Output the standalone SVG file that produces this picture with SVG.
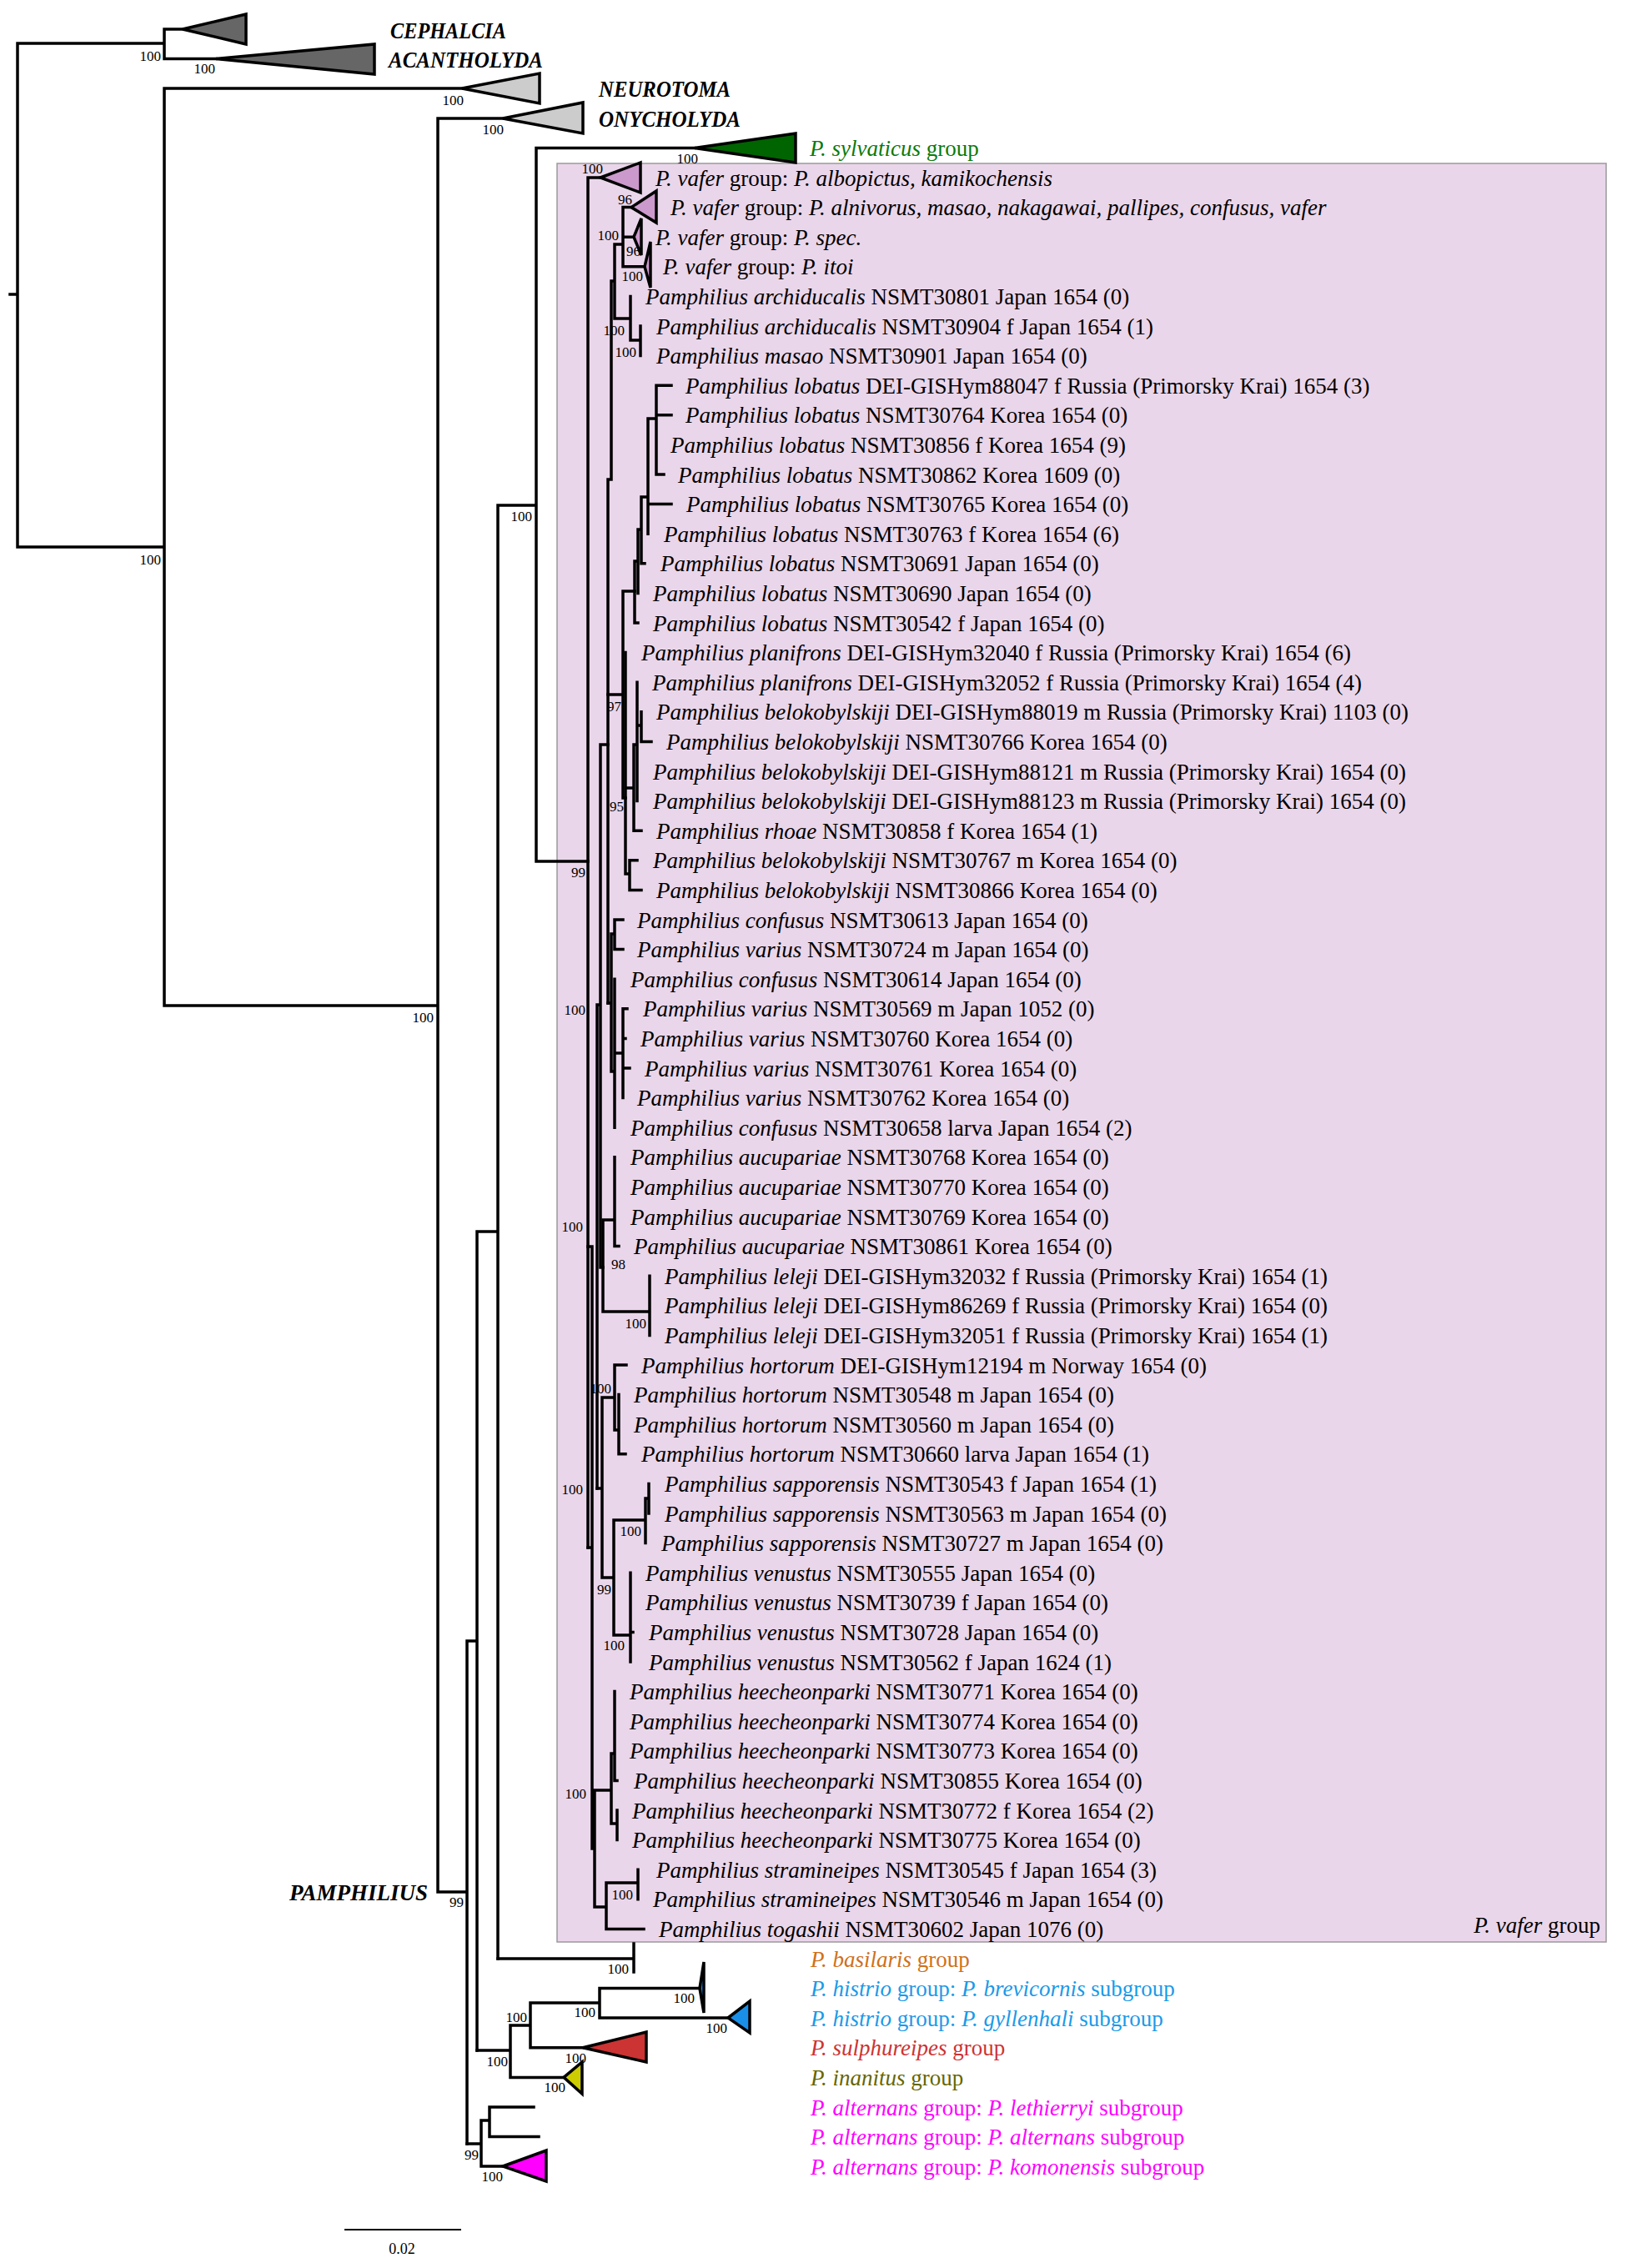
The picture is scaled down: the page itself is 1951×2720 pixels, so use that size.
<svg xmlns="http://www.w3.org/2000/svg" width="1951" height="2720" viewBox="0 0 1951 2720">
<defs>
<style>
text{font-family:"Liberation Serif","Times New Roman",serif;fill:#000}
.t{font-size:27px}
.i{font-style:italic}
.s{font-size:17px;text-anchor:end}
.b{font-size:27px;font-weight:bold;font-style:italic}
.ln{stroke:#000;stroke-width:3.5;fill:none;stroke-linecap:square}
.tri{stroke:#000;stroke-width:3.5;stroke-linejoin:miter}
.box{fill:#ead6ea;stroke:#9a9a9a;stroke-width:1.5}
</style>
</defs>
<rect width="1951" height="2720" fill="#fff"/>
<rect id="vafer-box" class="box" x="668" y="196" width="1258" height="2133"/>

<g id="connectors">
<path class="ln" d="M12,353H21 M21,52V656 M21,52H197 M197,35V70.6 M197,35H219 M197,70.6H259 M21,656H197 M197,106V1206 M197,106H554 M197,1206H525 M525,142V2269 M525,142H603 M525,2269H560 M560,1968V2571 M560,1968H572 M572,1477V2459 M572,1477H597 M597,606V2349 M597,606H643 M643,177.4V1033 M643,177.4H833 M643,1033H705"/>
<path class="ln" d="M597,2349H760 M760,2331V2365 M572,2459H612 M612,2429V2491.4 M612,2429H636 M636,2402V2455.8 M636,2402H719 M719,2384.6V2420 M719,2384.6H839 M719,2420H873 M636,2455.8H699 M612,2491.4H676 M560,2571H577 M577,2543V2598 M577,2543H587 M587,2527V2562.6 M587,2527H640 M587,2562.6H646 M577,2598H603"/>
<path class="ln" d="M705,213V1856 M705,213H720 M747,248.6V319.8 M747,248.6H757 M747,284.2H760 M747,319.8H773 M737,293H747 M737,293V382 M737,382H756 M756,355.4V408 M756,408H768 M768,391V426.6 M733,337H737 M733,337V575 M729,575H733 M729,575V1203"/>
<path class="ln" d="M720,893H729 M720,893V1520 M716,1205H720 M716,1205V1785 M720,1520H723 M747,709V957 M747,709H761 M747,957H750 M729,833H747"/>
<path class="ln" d="M761,673V747 M761,673H765 M761,747H765 M765,635V711.4 M765,635H769 M769,596V675.8 M769,596H777 M769,675.8H773 M777,502V640.2 M777,502H787 M777,604.6H805 M787,462.2V569 M787,462.2H805 M787,497.8H805 M787,569H796"/>
<path class="ln" d="M750,782.6V1048 M750,1048H755 M755,1031.8V1067.4 M755,1031.8H764 M755,1067.4H769 M750,945H760 M760,893V996.2 M760,893H764 M760,996.2H769 M764,818.2V960.6 M764,870H769 M769,853.8V889.4 M769,889.4H781"/>
<path class="ln" d="M729,1203H733 M733,1120V1285 M733,1120H737 M737,1103V1138.6 M737,1103H747 M737,1138.6H747 M733,1285H737 M737,1174.2V1352.2 M737,1263H747 M747,1209.8V1316.6 M747,1209.8H752 M747,1245.4H750 M747,1281H755"/>
<path class="ln" d="M723,1463V1573 M723,1463H737 M737,1387.8V1494.6 M737,1494.6H742 M723,1573H779 M779,1530.2V1601.4"/>
<path class="ln" d="M716,1785H722 M722,1676V1892 M722,1676H737 M737,1637V1715 M737,1637H751 M737,1715H742 M742,1672.6V1743.8 M742,1743.8H750 M722,1892H736 M736,1823V1961 M736,1823H774 M774,1797V1850.6 M774,1797H778 M778,1779.4V1815 M736,1961H756 M756,1886.2V1993 M756,1957.4H759"/>
<path class="ln" d="M705,1856H710 M705,1495H710 M710,1495V2217 M713,2147V2287 M713,2147H733 M733,2103V2187 M733,2103H737 M737,2028.6V2135.4 M737,2135.4H740 M733,2187H740 M740,2171V2206.6 M713,2287H727 M727,2258V2313.4 M727,2258H765 M765,2242.2V2277.8 M727,2313.4H772"/>
</g>

<g id="support">
<text class="s" x="193" y="73">100</text>
<text class="s" x="258" y="88">100</text>
<text class="s" x="193" y="677">100</text>
<text class="s" x="520" y="1226">100</text>
<text class="s" x="556" y="126">100</text>
<text class="s" x="604" y="161">100</text>
<text class="s" x="638" y="625">100</text>
<text class="s" x="837" y="196">100</text>
<text class="s" x="702" y="1052">99</text>
<text class="s" x="556" y="2287">99</text>
<text class="s" x="723" y="208">100</text>
<text class="s" x="758" y="245">96</text>
<text class="s" x="742" y="288">100</text>
<text class="s" x="768" y="307">96</text>
<text class="s" x="771" y="337">100</text>
<text class="s" x="749" y="402">100</text>
<text class="s" x="763" y="428">100</text>
<text class="s" x="745" y="853">97</text>
<text class="s" x="748" y="973">95</text>
<text class="s" x="702" y="1217">100</text>
<text class="s" x="699" y="1477">100</text>
<text class="s" x="750" y="1522">98</text>
<text class="s" x="775" y="1593">100</text>
<text class="s" x="733" y="1671">100</text>
<text class="s" x="699" y="1792">100</text>
<text class="s" x="769" y="1842">100</text>
<text class="s" x="733" y="1912">99</text>
<text class="s" x="749" y="1979">100</text>
<text class="s" x="703" y="2157">100</text>
<text class="s" x="759" y="2278">100</text>
<text class="s" x="754" y="2367">100</text>
<text class="s" x="833" y="2402">100</text>
<text class="s" x="714" y="2419">100</text>
<text class="s" x="872" y="2438">100</text>
<text class="s" x="632" y="2425">100</text>
<text class="s" x="703" y="2474">100</text>
<text class="s" x="609" y="2478">100</text>
<text class="s" x="678" y="2509">100</text>
<text class="s" x="574" y="2590">99</text>
<text class="s" x="603" y="2616">100</text>
</g>

<g id="outgroups">
<g id="cephalcia"><polygon class="tri" fill="#666" points="219,35 295,17 295,53"/><text class="b" x="468" y="46" textLength="139" lengthAdjust="spacingAndGlyphs">CEPHALCIA</text></g>
<g id="acantholyda"><polygon class="tri" fill="#666" points="259,70.6 449,53 449,89"/><text class="b" x="466" y="81" textLength="185" lengthAdjust="spacingAndGlyphs">ACANTHOLYDA</text></g>
<g id="neurotoma"><polygon class="tri" fill="#ccc" points="554,106 647,88 647,124"/><text class="b" x="718" y="116" textLength="158" lengthAdjust="spacingAndGlyphs">NEUROTOMA</text></g>
<g id="onycholyda"><polygon class="tri" fill="#ccc" points="603,142 699,123 699,160"/><text class="b" x="718" y="152" textLength="170" lengthAdjust="spacingAndGlyphs">ONYCHOLYDA</text></g>
<g id="pamphilius-label"><text class="b" x="347" y="2279" textLength="166" lengthAdjust="spacingAndGlyphs">PAMPHILIUS</text></g>
<g id="sylvaticus"><polygon class="tri" fill="#006400" points="833,177.4 954,160 954,195"/><text class="t" x="971" y="186.9" fill="#0b7a0b"><tspan class="i" fill="#0b7a0b">P. sylvaticus</tspan><tspan fill="#0b7a0b"> group</tspan></text></g>
</g>

<g id="vafer-clades">
<g id="vafer-albopictus"><polygon class="tri" fill="#cc99cc" points="720,213 768,195 768,231"/><text class="t" x="786" y="222.5"><tspan class="i">P. vafer</tspan> group: <tspan class="i">P. albopictus, kamikochensis</tspan></text></g>
<g id="vafer-alnivorus"><polygon class="tri" fill="#cc99cc" points="757,248.6 787,229 787,267"/><text class="t" x="804" y="258.1"><tspan class="i">P. vafer</tspan> group: <tspan class="i">P. alnivorus, masao, nakagawai, pallipes, confusus, vafer</tspan></text></g>
<g id="vafer-spec"><polygon class="tri" fill="#cc99cc" points="760,284.2 769,262 769,306"/><text class="t" x="786" y="293.7"><tspan class="i">P. vafer</tspan> group: <tspan class="i">P. spec.</tspan></text></g>
<g id="vafer-itoi"><polygon class="tri" fill="#cc99cc" points="773,319.8 780,290 780,345"/><text class="t" x="795" y="329.3"><tspan class="i">P. vafer</tspan> group: <tspan class="i">P. itoi</tspan></text></g>
</g>

<g id="leaves" class="t">
<g id="l5"><text class="t" x="774" y="364.9"><tspan class="i">Pamphilius archiducalis</tspan> NSMT30801 Japan 1654 (0)</text></g>
<g id="l6"><text class="t" x="787" y="400.5"><tspan class="i">Pamphilius archiducalis</tspan> NSMT30904 f Japan 1654 (1)</text></g>
<g id="l7"><text class="t" x="787" y="436.1"><tspan class="i">Pamphilius masao</tspan> NSMT30901 Japan 1654 (0)</text></g>
<g id="l8"><text class="t" x="822" y="471.7"><tspan class="i">Pamphilius lobatus</tspan> DEI-GISHym88047 f Russia (Primorsky Krai) 1654 (3)</text></g>
<g id="l9"><text class="t" x="822" y="507.3"><tspan class="i">Pamphilius lobatus</tspan> NSMT30764 Korea 1654 (0)</text></g>
<g id="l10"><text class="t" x="804" y="542.9"><tspan class="i">Pamphilius lobatus</tspan> NSMT30856 f Korea 1654 (9)</text></g>
<g id="l11"><text class="t" x="813" y="578.5"><tspan class="i">Pamphilius lobatus</tspan> NSMT30862 Korea 1609 (0)</text></g>
<g id="l12"><text class="t" x="823" y="614.1"><tspan class="i">Pamphilius lobatus</tspan> NSMT30765 Korea 1654 (0)</text></g>
<g id="l13"><text class="t" x="796" y="649.7"><tspan class="i">Pamphilius lobatus</tspan> NSMT30763 f Korea 1654 (6)</text></g>
<g id="l14"><text class="t" x="792" y="685.3"><tspan class="i">Pamphilius lobatus</tspan> NSMT30691 Japan 1654 (0)</text></g>
<g id="l15"><text class="t" x="783" y="720.9"><tspan class="i">Pamphilius lobatus</tspan> NSMT30690 Japan 1654 (0)</text></g>
<g id="l16"><text class="t" x="783" y="756.5"><tspan class="i">Pamphilius lobatus</tspan> NSMT30542 f Japan 1654 (0)</text></g>
<g id="l17"><text class="t" x="769" y="792.1"><tspan class="i">Pamphilius planifrons</tspan> DEI-GISHym32040 f Russia (Primorsky Krai) 1654 (6)</text></g>
<g id="l18"><text class="t" x="782" y="827.7"><tspan class="i">Pamphilius planifrons</tspan> DEI-GISHym32052 f Russia (Primorsky Krai) 1654 (4)</text></g>
<g id="l19"><text class="t" x="787" y="863.3"><tspan class="i">Pamphilius belokobylskiji</tspan> DEI-GISHym88019 m Russia (Primorsky Krai) 1103 (0)</text></g>
<g id="l20"><text class="t" x="799" y="898.9"><tspan class="i">Pamphilius belokobylskiji</tspan> NSMT30766 Korea 1654 (0)</text></g>
<g id="l21"><text class="t" x="783" y="934.5"><tspan class="i">Pamphilius belokobylskiji</tspan> DEI-GISHym88121 m Russia (Primorsky Krai) 1654 (0)</text></g>
<g id="l22"><text class="t" x="783" y="970.1"><tspan class="i">Pamphilius belokobylskiji</tspan> DEI-GISHym88123 m Russia (Primorsky Krai) 1654 (0)</text></g>
<g id="l23"><text class="t" x="787" y="1005.7"><tspan class="i">Pamphilius rhoae</tspan> NSMT30858 f Korea 1654 (1)</text></g>
<g id="l24"><text class="t" x="783" y="1041.3"><tspan class="i">Pamphilius belokobylskiji</tspan> NSMT30767 m Korea 1654 (0)</text></g>
<g id="l25"><text class="t" x="787" y="1076.9"><tspan class="i">Pamphilius belokobylskiji</tspan> NSMT30866 Korea 1654 (0)</text></g>
<g id="l26"><text class="t" x="764" y="1112.5"><tspan class="i">Pamphilius confusus</tspan> NSMT30613 Japan 1654 (0)</text></g>
<g id="l27"><text class="t" x="764" y="1148.1"><tspan class="i">Pamphilius varius</tspan> NSMT30724 m Japan 1654 (0)</text></g>
<g id="l28"><text class="t" x="756" y="1183.7"><tspan class="i">Pamphilius confusus</tspan> NSMT30614 Japan 1654 (0)</text></g>
<g id="l29"><text class="t" x="771" y="1219.3"><tspan class="i">Pamphilius varius</tspan> NSMT30569 m Japan 1052 (0)</text></g>
<g id="l30"><text class="t" x="768" y="1254.9"><tspan class="i">Pamphilius varius</tspan> NSMT30760 Korea 1654 (0)</text></g>
<g id="l31"><text class="t" x="773" y="1290.5"><tspan class="i">Pamphilius varius</tspan> NSMT30761 Korea 1654 (0)</text></g>
<g id="l32"><text class="t" x="764" y="1326.1"><tspan class="i">Pamphilius varius</tspan> NSMT30762 Korea 1654 (0)</text></g>
<g id="l33"><text class="t" x="756" y="1361.7"><tspan class="i">Pamphilius confusus</tspan> NSMT30658 larva Japan 1654 (2)</text></g>
<g id="l34"><text class="t" x="756" y="1397.3"><tspan class="i">Pamphilius aucupariae</tspan> NSMT30768 Korea 1654 (0)</text></g>
<g id="l35"><text class="t" x="756" y="1432.9"><tspan class="i">Pamphilius aucupariae</tspan> NSMT30770 Korea 1654 (0)</text></g>
<g id="l36"><text class="t" x="756" y="1468.5"><tspan class="i">Pamphilius aucupariae</tspan> NSMT30769 Korea 1654 (0)</text></g>
<g id="l37"><text class="t" x="760" y="1504.1"><tspan class="i">Pamphilius aucupariae</tspan> NSMT30861 Korea 1654 (0)</text></g>
<g id="l38"><text class="t" x="797" y="1539.7"><tspan class="i">Pamphilius leleji</tspan> DEI-GISHym32032 f Russia (Primorsky Krai) 1654 (1)</text></g>
<g id="l39"><text class="t" x="797" y="1575.3"><tspan class="i">Pamphilius leleji</tspan> DEI-GISHym86269 f Russia (Primorsky Krai) 1654 (0)</text></g>
<g id="l40"><text class="t" x="797" y="1610.9"><tspan class="i">Pamphilius leleji</tspan> DEI-GISHym32051 f Russia (Primorsky Krai) 1654 (1)</text></g>
<g id="l41"><text class="t" x="769" y="1646.5"><tspan class="i">Pamphilius hortorum</tspan> DEI-GISHym12194 m Norway 1654 (0)</text></g>
<g id="l42"><text class="t" x="760" y="1682.1"><tspan class="i">Pamphilius hortorum</tspan> NSMT30548 m Japan 1654 (0)</text></g>
<g id="l43"><text class="t" x="760" y="1717.7"><tspan class="i">Pamphilius hortorum</tspan> NSMT30560 m Japan 1654 (0)</text></g>
<g id="l44"><text class="t" x="769" y="1753.3"><tspan class="i">Pamphilius hortorum</tspan> NSMT30660 larva Japan 1654 (1)</text></g>
<g id="l45"><text class="t" x="797" y="1788.9"><tspan class="i">Pamphilius sapporensis</tspan> NSMT30543 f Japan 1654 (1)</text></g>
<g id="l46"><text class="t" x="797" y="1824.5"><tspan class="i">Pamphilius sapporensis</tspan> NSMT30563 m Japan 1654 (0)</text></g>
<g id="l47"><text class="t" x="793" y="1860.1"><tspan class="i">Pamphilius sapporensis</tspan> NSMT30727 m Japan 1654 (0)</text></g>
<g id="l48"><text class="t" x="774" y="1895.7"><tspan class="i">Pamphilius venustus</tspan> NSMT30555 Japan 1654 (0)</text></g>
<g id="l49"><text class="t" x="774" y="1931.3"><tspan class="i">Pamphilius venustus</tspan> NSMT30739 f Japan 1654 (0)</text></g>
<g id="l50"><text class="t" x="778" y="1966.9"><tspan class="i">Pamphilius venustus</tspan> NSMT30728 Japan 1654 (0)</text></g>
<g id="l51"><text class="t" x="778" y="2002.5"><tspan class="i">Pamphilius venustus</tspan> NSMT30562 f Japan 1624 (1)</text></g>
<g id="l52"><text class="t" x="755" y="2038.1"><tspan class="i">Pamphilius heecheonparki</tspan> NSMT30771 Korea 1654 (0)</text></g>
<g id="l53"><text class="t" x="755" y="2073.7"><tspan class="i">Pamphilius heecheonparki</tspan> NSMT30774 Korea 1654 (0)</text></g>
<g id="l54"><text class="t" x="755" y="2109.3"><tspan class="i">Pamphilius heecheonparki</tspan> NSMT30773 Korea 1654 (0)</text></g>
<g id="l55"><text class="t" x="760" y="2144.9"><tspan class="i">Pamphilius heecheonparki</tspan> NSMT30855 Korea 1654 (0)</text></g>
<g id="l56"><text class="t" x="758" y="2180.5"><tspan class="i">Pamphilius heecheonparki</tspan> NSMT30772 f Korea 1654 (2)</text></g>
<g id="l57"><text class="t" x="758" y="2216.1"><tspan class="i">Pamphilius heecheonparki</tspan> NSMT30775 Korea 1654 (0)</text></g>
<g id="l58"><text class="t" x="787" y="2251.7"><tspan class="i">Pamphilius stramineipes</tspan> NSMT30545 f Japan 1654 (3)</text></g>
<g id="l59"><text class="t" x="783" y="2287.3"><tspan class="i">Pamphilius stramineipes</tspan> NSMT30546 m Japan 1654 (0)</text></g>
<g id="l60"><text class="t" x="790" y="2322.9"><tspan class="i">Pamphilius togashii</tspan> NSMT30602 Japan 1076 (0)</text></g>
</g>

<g id="vafer-label"><text class="t" x="1919" y="2318" text-anchor="end"><tspan class="i">P. vafer</tspan> group</text></g>

<g id="other-groups">
<g id="basilaris"><text class="t" x="972" y="2358.5" style="fill:#d0701a"><tspan class="i" style="fill:#d0701a">P. basilaris</tspan> group</text></g>
<g id="brevicornis"><polygon class="tri" fill="#1a8fe8" points="839,2384.6 844,2353 844,2414"/><text class="t" x="972" y="2394.1" style="fill:#1a9ae8"><tspan class="i" style="fill:#1a9ae8">P. histrio</tspan> group: <tspan class="i" style="fill:#1a9ae8">P. brevicornis</tspan> subgroup</text></g>
<g id="gyllenhali"><polygon class="tri" fill="#1a8fe8" points="873,2420 899,2400 899,2438"/><text class="t" x="972" y="2429.7" style="fill:#1a9ae8"><tspan class="i" style="fill:#1a9ae8">P. histrio</tspan> group: <tspan class="i" style="fill:#1a9ae8">P. gyllenhali</tspan> subgroup</text></g>
<g id="sulphureipes"><polygon class="tri" fill="#cc3333" points="699,2455.8 775,2437 775,2473"/><text class="t" x="972" y="2465.3" style="fill:#cc3333"><tspan class="i" style="fill:#cc3333">P. sulphureipes</tspan> group</text></g>
<g id="inanitus"><polygon class="tri" fill="#cccc00" points="676,2491.4 698,2473 698,2511"/><text class="t" x="972" y="2500.9" style="fill:#666600"><tspan class="i" style="fill:#666600">P. inanitus</tspan> group</text></g>
<g id="lethierryi"><text class="t" x="972" y="2536.5" style="fill:#f0f"><tspan class="i" style="fill:#f0f">P. alternans</tspan> group: <tspan class="i" style="fill:#f0f">P. lethierryi</tspan> subgroup</text></g>
<g id="alternans"><text class="t" x="972" y="2572.1" style="fill:#f0f"><tspan class="i" style="fill:#f0f">P. alternans</tspan> group: <tspan class="i" style="fill:#f0f">P. alternans</tspan> subgroup</text></g>
<g id="komonensis"><polygon class="tri" fill="#ff00ff" points="603,2598 655,2579 655,2616"/><text class="t" x="972" y="2607.7" style="fill:#f0f"><tspan class="i" style="fill:#f0f">P. alternans</tspan> group: <tspan class="i" style="fill:#f0f">P. komonensis</tspan> subgroup</text></g>
</g>

<g id="scale-bar">
<line x1="413" y1="2674" x2="553" y2="2674" stroke="#000" stroke-width="2"/>
<text x="482" y="2703" font-size="18" text-anchor="middle">0.02</text>
</g>
</svg>
